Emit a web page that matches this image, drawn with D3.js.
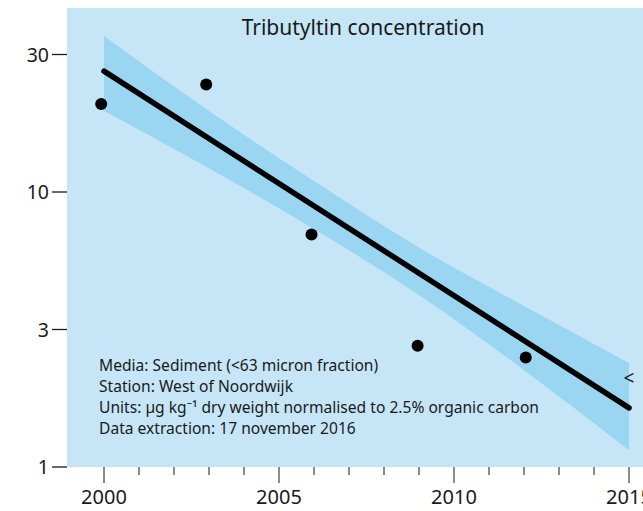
<!DOCTYPE html>
<html>
<head>
<meta charset="utf-8">
<script src="https://cdn.jsdelivr.net/npm/d3@7"></script>
<style>
  html, body { margin: 0; padding: 0; background: #fff; }
  svg { display: block; font-family: "Noto Sans", "Open Sans", sans-serif; }
</style>
</head>
<body>
<svg id="chart" width="643" height="511"></svg>
<script>
// Sampled TBT concentrations (µg/kg dw, normalised to 2.5% OC)
const sampleYears = [1999.92, 2002.92, 2005.93, 2008.96, 2012.05];
const sampleValues = [20.9, 24.6, 7.0, 2.76, 2.5];

// Fitted log-linear trend
const trendYears = [2000, 2015];
const trendValues = [27.5, 1.64];

// Confidence band around the trend
const bandYears = [2000, 2003, 2006, 2009, 2012, 2015];
const bandUpper = [36.9, 19.7, 10.96, 6.28, 3.85, 2.39];
const bandLower = [19.7, 12.2, 7.33, 4.22, 2.25, 1.15];

// Axis ticks
const yTickValues = [1, Math.sqrt(10), 10, 10 * Math.sqrt(10)];
const yTickLabels = ["1", "3", "10", "30"];
const xMajorTicks = [2000, 2005, 2010, 2015];
const xMinorTicks = d3.range(2000, 2016);

const infoLines = [
  "Media: Sediment (<63 micron fraction)",
  "Station: West of Noordwijk",
  "Units: µg kg\u207B\u00B9 dry weight normalised to 2.5% organic carbon",
  "Data extraction: 17 november 2016"
];

const svg = d3.select("#chart");

const panel = { left: 67, top: 8, right: 659, bottom: 467 };

const x = d3.scaleLinear().domain([2000, 2015]).range([104, 629]);
const y = d3.scaleLog().domain([1, Math.pow(10, 459 / 275)]).range([panel.bottom, panel.top]);

// Background panel
svg.append("rect")
  .attr("x", panel.left).attr("y", panel.top)
  .attr("width", panel.right - panel.left)
  .attr("height", panel.bottom - panel.top)
  .attr("fill", "#c6e6f7");

// Title
svg.append("text")
  .attr("x", (panel.left + panel.right) / 2)
  .attr("y", 35)
  .attr("text-anchor", "middle")
  .attr("font-size", 21)
  .attr("fill", "#1a1a1a")
  .text("Tributyltin concentration");

// Confidence band
const bandData = bandYears.map((yr, i) => ({ yr, lo: bandLower[i], hi: bandUpper[i] }));
svg.append("path")
  .datum(bandData)
  .attr("fill", "#9ad5f1")
  .attr("d", d3.area()
    .x(d => x(d.yr))
    .y0(d => y(d.lo))
    .y1(d => y(d.hi))
    .curve(d3.curveMonotoneX));

// Info text block
const info = svg.append("text")
  .attr("x", 99)
  .attr("y", 371)
  .attr("font-size", 15.6)
  .attr("fill", "#1a1a1a");
infoLines.forEach((line, i) => {
  info.append("tspan").attr("x", 99).attr("dy", i === 0 ? 0 : 21).text(line);
});

// Trend line
const trendData = trendYears.map((yr, i) => ({ yr, v: trendValues[i] }));
svg.append("path")
  .datum(trendData)
  .attr("fill", "none")
  .attr("stroke", "#000")
  .attr("stroke-width", 5.5)
  .attr("stroke-linecap", "round")
  .attr("d", d3.line().x(d => x(d.yr)).y(d => y(d.v)));

// Sample points
svg.append("g")
  .selectAll("circle")
  .data(sampleYears.map((yr, i) => ({ yr, v: sampleValues[i] })))
  .join("circle")
  .attr("cx", d => x(d.yr))
  .attr("cy", d => y(d.v))
  .attr("r", 6)
  .attr("fill", "#000");

// Status marker at the end of the trend
svg.append("text")
  .attr("x", x(2015))
  .attr("y", 385)
  .attr("text-anchor", "middle")
  .attr("font-size", 19)
  .attr("fill", "#1a1a1a")
  .text("<");

// Y axis
const yAxis = svg.append("g");
yTickValues.forEach((v, i) => {
  const yy = y(v);
  yAxis.append("line")
    .attr("x1", 52).attr("x2", panel.left)
    .attr("y1", yy).attr("y2", yy)
    .attr("stroke", "#1a1a1a").attr("stroke-width", 1.3);
  yAxis.append("text")
    .attr("x", 49).attr("y", yy + 7)
    .attr("text-anchor", "end")
    .attr("font-size", 19.5)
    .attr("fill", "#1a1a1a")
    .text(yTickLabels[i]);
});

// X axis
const xAxis = svg.append("g");
xMinorTicks.forEach(yr => {
  const major = xMajorTicks.includes(yr);
  xAxis.append("line")
    .attr("x1", x(yr)).attr("x2", x(yr))
    .attr("y1", panel.bottom).attr("y2", panel.bottom + (major ? 16 : 8))
    .attr("stroke", "#666").attr("stroke-width", 1.5);
});
xMajorTicks.forEach(yr => {
  xAxis.append("text")
    .attr("x", x(yr)).attr("y", 504)
    .attr("text-anchor", "middle")
    .attr("font-size", 20)
    .attr("fill", "#1a1a1a")
    .text(yr);
});
</script>
</body>
</html>
